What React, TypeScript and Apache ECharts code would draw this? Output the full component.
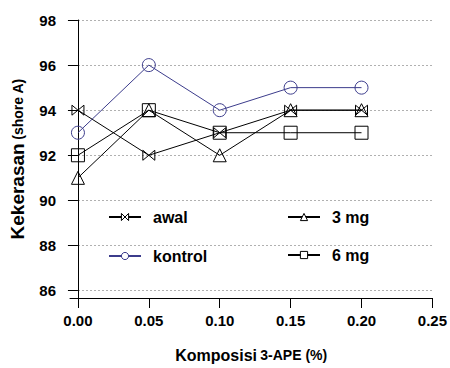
import React, { useEffect, useRef } from "react";
import * as echarts from "echarts";

const xValues = [0, 0.05, 0.1, 0.15, 0.2];
const awal = [94, 92, 93, 94, 94];
const kontrol = [93, 96, 94, 95, 95];
const mg3 = [91, 94, 92, 94, 94];
const mg6 = [92, 94, 93, 93, 93];
const xTicks = [0, 0.05, 0.1, 0.15, 0.2, 0.25];
const yTicks = [86, 88, 90, 92, 94, 96, 98];

const FONT = "'Liberation Sans', Arial, sans-serif";
const BOWTIE = "path://M0,0L12,10L12,0L0,10Z";

function mk(name: string, vals: number[], symbol: string, color: string, size: number) {
  return {
    name,
    type: "line",
    data: xValues.map((x, i) => [x, vals[i]]),
    symbol,
    symbolSize: size,
    symbolKeepAspect: true,
    showAllSymbol: true,
    lineStyle: { color, width: 1 },
    itemStyle: { color: "transparent", borderColor: color, borderWidth: 1 },
    emphasis: { disabled: true },
  };
}

export default function App() {
  const ref = useRef<HTMLDivElement>(null);
  useEffect(() => {
    document.body.style.margin = "0";
    const chart = echarts.init(ref.current!, null, { renderer: "svg" });
    const legendCommon = {
      orient: "vertical",
      padding: 0,
      itemWidth: 32,
      itemHeight: 9,
      itemStyle: { color: "#fff", borderColor: "inherit", borderWidth: 1 },
      textStyle: {
        fontFamily: FONT,
        fontWeight: "bold",
        fontSize: 16,
        color: "#000",
        lineHeight: 16,
        padding: [0, 0, 0, 7],
      },
      selectedMode: false,
    };
    chart.setOption({
      animation: false,
      backgroundColor: "#fff",
      grid: { left: 68, right: 16, top: 20, bottom: 67 },
      legend: [
        { ...legendCommon, left: 108, top: 209, itemGap: 23, data: ["awal", "kontrol"] },
        { ...legendCommon, left: 287, top: 209, itemGap: 22, data: ["3 mg", "6 mg"] },
      ],
      xAxis: {
        type: "value",
        min: -0.0056,
        max: 0.25,
        axisLine: { show: true, lineStyle: { color: "#000", width: 1 } },
        axisTick: { show: true, length: 10, customValues: xTicks, lineStyle: { color: "#000" } },
        axisLabel: {
          customValues: xTicks,
          formatter: (v: number) => v.toFixed(2),
          fontFamily: FONT,
          fontWeight: "bold",
          fontSize: 15,
          color: "#000",
          margin: 15,
        },
        splitLine: { show: false },
        name: "{a|Komposisi} {b|3-APE (%)}",
        nameLocation: "middle",
        nameGap: 49,
        nameTextStyle: {
          rich: {
            a: { fontFamily: FONT, fontWeight: "bold", fontSize: 16, color: "#000" },
            b: { fontFamily: FONT, fontWeight: "bold", fontSize: 14, color: "#000" },
          },
        },
      },
      yAxis: {
        type: "value",
        min: 85.67,
        max: 98,
        axisLine: { show: true, lineStyle: { color: "#000", width: 1 } },
        axisTick: { show: true, length: 10, customValues: yTicks, lineStyle: { color: "#000" } },
        axisLabel: {
          customValues: yTicks,
          fontFamily: FONT,
          fontWeight: "bold",
          fontSize: 15,
          color: "#000",
          margin: 14,
        },
        splitLine: { show: true, lineStyle: { color: "#b0b0b0", type: [2, 2], width: 1 } },
        name: "{a|Kekerasan} {b|(shore A)}",
        nameLocation: "middle",
        nameGap: 43,
        nameTextStyle: {
          rich: {
            a: { fontFamily: FONT, fontWeight: "bold", fontSize: 19, color: "#000" },
            b: { fontFamily: FONT, fontWeight: "bold", fontSize: 14, color: "#000" },
          },
        },
      },
      series: [
        mk("awal", awal, BOWTIE, "#000", 12),
        mk("kontrol", kontrol, "circle", "#3c3c8c", 13),
        mk("3 mg", mg3, "triangle", "#000", 13),
        mk("6 mg", mg6, "rect", "#000", 13),
      ],
    });
    return () => chart.dispose();
  }, []);
  return <div ref={ref} style={{ width: 450, height: 368 }} />;
}
